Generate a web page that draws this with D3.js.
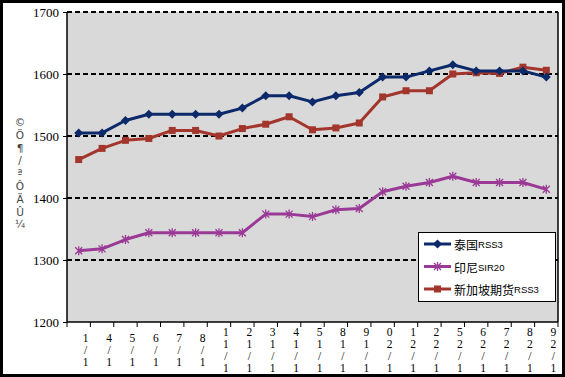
<!DOCTYPE html>
<html><head><meta charset="utf-8">
<script src="https://cdn.jsdelivr.net/npm/d3@7"></script>
<style>body{margin:0;background:#fff}svg{display:block}
.vt{writing-mode:vertical-rl;text-orientation:upright;}</style>
</head><body>
<script>
const categories = ["1/1","1/4","1/5","1/6","1/7","1/8","1/11","1/12","1/13","1/14","1/15","1/18","1/19","1/20","1/21","1/22","1/25","1/26","1/27","1/28","1/29"];
const thaiRSS3 = [1505,1505,1525,1535,1535,1535,1535,1545,1565,1565,1555,1565,1570,1595,1595,1605,1615,1605,1605,1605,1595];
const indoSIR20 = [1315,1318,1333,1344,1344,1344,1344,1344,1374,1374,1370,1381,1383,1410,1419,1425,1435,1425,1425,1425,1414];
const sgxRSS3 = [1462,1480,1493,1496,1509,1509,1500,1512,1519,1531,1510,1513,1521,1563,1573,1573,1600,1602,1601,1611,1606];
const yTicks = [1200,1300,1400,1500,1600,1700];
const seriesNames = ["泰国RSS3","印尼SIR20","新加坡期货RSS3"];
const yTitle = "©Ö¶/ªÔÄÛ¼";

const W = 565, H = 377;
const svg = d3.select("body").append("svg").attr("width", W).attr("height", H);
svg.append("rect").attr("x",1.5).attr("y",1.5).attr("width",W-3).attr("height",H-3)
  .attr("fill","#fff").attr("stroke","#000").attr("stroke-width",3);

const L = 67, R = 558, T = 12, B = 322;
const x = d3.scaleBand().domain(categories).range([L, R]);
const y = d3.scaleLinear().domain([1200,1700]).range([B, T]);

svg.append("rect").attr("x",L).attr("y",T).attr("width",R-L).attr("height",B-T).attr("fill","#d9d9d9");

svg.append("g").selectAll("line").data(yTicks.filter(d=>d>1200)).join("line")
  .attr("x1",L).attr("x2",R).attr("y1",d=>y(d)).attr("y2",d=>y(d))
  .attr("stroke","#000").attr("stroke-width",2).attr("stroke-dasharray","5,3");

svg.append("line").attr("x1",L).attr("x2",L).attr("y1",T).attr("y2",B).attr("stroke","#000").attr("stroke-width",1.5);
svg.append("line").attr("x1",R).attr("x2",R).attr("y1",T).attr("y2",B).attr("stroke","#000").attr("stroke-width",1.5);
svg.append("line").attr("x1",L).attr("x2",R).attr("y1",B).attr("y2",B).attr("stroke","#000").attr("stroke-width",1.5);

const yAxis = d3.axisLeft(y).tickValues(yTicks).tickSize(4).tickFormat(d3.format("d"));
const gy = svg.append("g").attr("transform",`translate(${L},0)`).call(yAxis);
gy.select(".domain").remove();
gy.selectAll("text").attr("font-family","Liberation Serif").attr("font-size",13).attr("fill","#000").attr("x",-8);

const bounds = categories.map(c=>x(c)).concat([R]);
svg.append("g").selectAll("line").data(bounds).join("line")
  .attr("x1",d=>d).attr("x2",d=>d).attr("y1",B).attr("y2",B+5).attr("stroke","#000");

// x labels: upright stacked characters, read bottom-to-top
svg.append("g").selectAll("text").data(categories).join("text")
  .attr("class","vt")
  .attr("x",c=>x(c) + x.bandwidth()/2 + 7).attr("y",350)
  .attr("text-anchor","middle")
  .attr("font-family","Liberation Serif").attr("font-size",11.5)
  .attr("fill","#000")
  .text(c=>c.split("").reverse().join(""));

// y title (garbled vertical text)
const yt = svg.append("g").attr("font-family","DejaVu Sans").attr("font-size",10.5).attr("fill","#444");
yTitle.split("").forEach((ch,i)=>{
  yt.append("text").attr("x",20).attr("y",122+i*12.8).attr("text-anchor","middle")
    .attr("dominant-baseline","central").text(ch);
});

const cxOf = (i)=> x(categories[i]) + x.bandwidth()/2;
const line = d3.line().x((d,i)=>cxOf(i)).y(d=>y(d));
const colors = ["#0c2a6a","#9a3a96","#a3362c"];
const seriesData = [thaiRSS3, indoSIR20, sgxRSS3];

function marker(g, type, cx, cy, color){
  if(type===0){
    g.append("path").attr("d",`M${cx},${cy-4.5}L${cx+4.5},${cy}L${cx},${cy+4.5}L${cx-4.5},${cy}Z`).attr("fill",color);
  } else if(type===2){
    g.append("rect").attr("x",cx-3.5).attr("y",cy-3.5).attr("width",7).attr("height",7).attr("fill",color);
  } else {
    const s=3.5;
    g.append("path").attr("d",`M${cx-s},${cy-s}L${cx+s},${cy+s}M${cx-s},${cy+s}L${cx+s},${cy-s}M${cx},${cy-s-1}L${cx},${cy+s+1}`)
      .attr("stroke",color).attr("stroke-width",1.3).attr("fill","none");
  }
}

[1,2,0].forEach(k=>{
  const g = svg.append("g");
  g.append("path").datum(seriesData[k]).attr("d",line).attr("fill","none")
    .attr("stroke",colors[k]).attr("stroke-width",3).attr("stroke-linejoin","round");
  seriesData[k].forEach((v,i)=>marker(g,k,cxOf(i),y(v),colors[k]));
});

const lg = svg.append("g");
lg.append("rect").attr("x",418.5).attr("y",232.5).attr("width",137).attr("height",69).attr("fill","#fff").attr("stroke","#000");
seriesNames.forEach((name,k)=>{
  const yy = 244 + k*22.5;
  lg.append("line").attr("x1",424).attr("x2",451).attr("y1",yy).attr("y2",yy).attr("stroke",colors[k]).attr("stroke-width",3);
  marker(lg,k,437.5,yy,colors[k]);
  const m = name.match(/^([^A-Z0-9]+)(.*)$/);
  const t = lg.append("text").attr("x",454).attr("y",yy).attr("dominant-baseline","central").attr("fill","#000");
  t.append("tspan").attr("font-family","Noto Sans CJK SC").attr("font-size",12).text(m[1]);
  t.append("tspan").attr("font-family","Liberation Sans").attr("font-size",9.5).text(m[2]);
});
</script>
</body></html>
